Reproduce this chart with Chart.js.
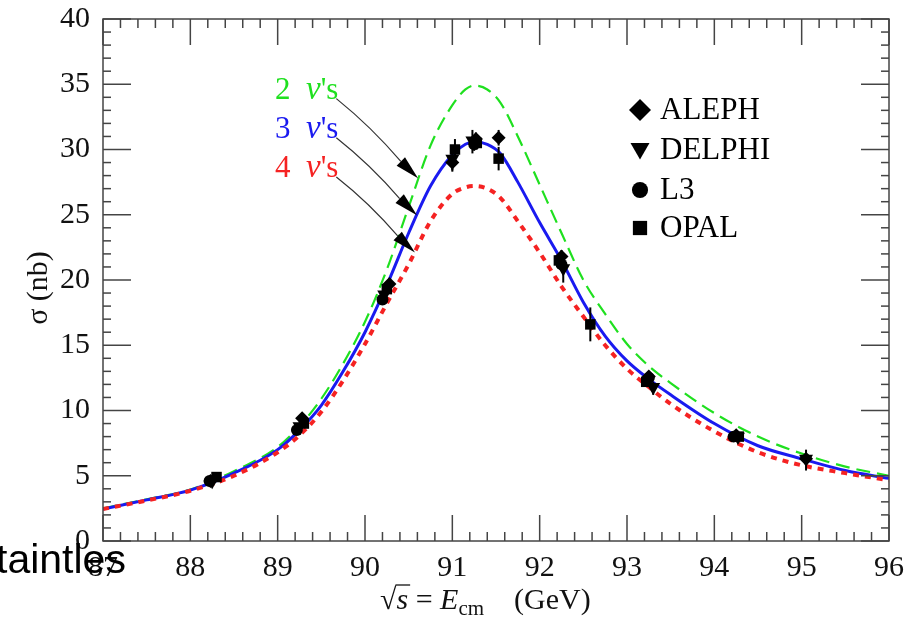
<!DOCTYPE html>
<html>
<head>
<meta charset="utf-8">
<script src="https://cdn.jsdelivr.net/npm/chart.js@4/dist/chart.umd.min.js"></script>
<style>
  html, body { margin: 0; padding: 0; background: #fff; }
  #wrap { position: relative; width: 912px; height: 619px; }
</style>
</head>
<body>
<div id="wrap"><canvas id="chart" width="912" height="619"></canvas></div>
<script>
// courbes théoriques (sigma en nb)
const energies = [87.0, 87.5, 88.0, 88.5, 89.0, 89.25, 89.5, 89.75, 90.0, 90.25, 90.5, 90.75, 91.0, 91.15, 91.25, 91.4, 91.55, 91.75, 92.0, 92.25, 92.5, 92.75, 93.0, 93.25, 93.5, 94.0, 94.5, 95.0, 95.5, 96.0];
const sigma2nu = [2.5, 3.2, 3.95, 5.35, 7.2, 8.8, 10.9, 13.6, 16.8, 20.8, 25.6, 30.3, 33.4, 34.6, 34.9, 34.6, 33.6, 31.0, 27.3, 23.6, 20.0, 17.4, 15.1, 13.4, 12.1, 9.8, 8.0, 6.7, 5.7, 5.0];
const sigma3nu = [2.45, 3.15, 3.9, 5.2, 7.0, 8.5, 10.4, 13.0, 16.0, 19.6, 23.6, 27.2, 29.6, 30.4, 30.6, 30.4, 29.7, 27.5, 24.4, 21.5, 18.3, 15.7, 13.8, 12.4, 11.2, 9.0, 7.3, 6.3, 5.4, 4.8];
const sigma4nu = [2.45, 3.1, 3.85, 5.0, 6.8, 8.1, 9.9, 12.3, 15.1, 18.2, 21.2, 24.5, 26.6, 27.1, 27.2, 27.0, 26.3, 24.5, 22.1, 19.5, 17.2, 15.0, 13.2, 11.8, 10.5, 8.4, 6.8, 5.8, 5.2, 4.65];

// mesures des 4 expériences
const alephE = [88.23, 89.28, 90.28, 91.0, 91.27, 91.53, 92.25, 93.25, 94.25, 95.05];
const alephSigma = [4.6, 9.4, 19.7, 29.0, 30.8, 30.9, 21.8, 12.6, 8.1, 6.3];
const alephErr = [0.3, 0.3, 0.4, 0.6, 0.5, 0.6, 0.5, 0.4, 0.3, 0.4];
const delphiE = [88.25, 89.25, 90.22, 91.0, 91.23, 92.27, 93.3, 94.27, 95.05];
const delphiSigma = [4.5, 8.7, 18.8, 29.2, 30.6, 20.8, 11.7, 7.9, 6.2];
const delphiErr = [0.3, 0.3, 0.4, 0.9, 0.9, 1.0, 0.5, 0.4, 0.8];
const l3E = [88.22, 89.22, 90.2, 91.25, 92.25, 93.25, 94.22];
const l3Sigma = [4.6, 8.5, 18.5, 30.4, 21.2, 12.5, 8.0];
const l3Err = [0.2, 0.3, 0.4, 0.5, 0.5, 0.4, 0.3];
const opalE = [88.3, 89.3, 90.25, 91.03, 91.28, 91.53, 92.22, 92.58, 93.22, 94.28];
const opalSigma = [4.9, 9.0, 19.3, 30.0, 30.5, 29.3, 21.5, 16.6, 12.2, 8.0];
const opalErr = [0.3, 0.3, 0.4, 0.8, 0.5, 0.9, 0.5, 1.3, 0.4, 0.3];

const xTicks = [87, 88, 89, 90, 91, 92, 93, 94, 95, 96];
const yTicks = [0, 5, 10, 15, 20, 25, 30, 35, 40];
const nuCounts = ['2', '3', '4'];

const SERIF = '"Liberation Serif", "Times New Roman", serif';
const GREEN = '#1fe01f', BLUE = '#1a1af0', RED = '#f52222';

const experiments = [
  { name: 'ALEPH', E: alephE, s: alephSigma, err: alephErr, style: 'diamond' },
  { name: 'DELPHI', E: delphiE, s: delphiSigma, err: delphiErr, style: 'tri' },
  { name: 'L3', E: l3E, s: l3Sigma, err: l3Err, style: 'circle' },
  { name: 'OPAL', E: opalE, s: opalSigma, err: opalErr, style: 'square' }
];

// étiquettes "n ν's" et flèches (coordonnées en GeV / nb)
const nuLabelAt = { e: 88.97, s: [33.9, 30.9, 27.9] };
const arrowTips = [[90.607, 27.8], [90.595, 24.96], [90.572, 22.1]];
const nuColors = [GREEN, BLUE, RED];

function pts(E, S) { return E.map((e, i) => ({ x: e, y: S[i] })); }

function line(ctx, x1, y1, x2, y2) {
  ctx.beginPath(); ctx.moveTo(x1, y1); ctx.lineTo(x2, y2); ctx.stroke();
}

// petit dessin de marqueur (pour les points et la légende)
function marker(ctx, style, x, y, r) {
  ctx.beginPath();
  if (style === 'diamond') {
    ctx.moveTo(x, y - r); ctx.lineTo(x + r, y); ctx.lineTo(x, y + r); ctx.lineTo(x - r, y);
  } else if (style === 'tri') {
    ctx.moveTo(x - r, y - r * 0.75); ctx.lineTo(x + r, y - r * 0.75); ctx.lineTo(x, y + r);
  } else if (style === 'circle') {
    ctx.arc(x, y, r * 0.85, 0, Math.PI * 2);
  } else {
    ctx.rect(x - r * 0.75, y - r * 0.75, r * 1.5, r * 1.5);
  }
  ctx.closePath();
  ctx.fill();
}

function pieces(ctx, list, x, y) {
  list.forEach(p => {
    ctx.font = p.f;
    ctx.fillText(p.t, x, y + (p.dy || 0));
    x += ctx.measureText(p.t).width;
  });
  return x;
}

const decor = {
  id: 'decor',
  afterDatasetsDraw(chart) {
    const { ctx, chartArea: a, scales: { x, y } } = chart;
    ctx.save();
    // barres d'erreur + marqueurs
    experiments.forEach(exp => {
      exp.E.forEach((e, i) => {
        const px = x.getPixelForValue(e);
        ctx.strokeStyle = '#000'; ctx.lineWidth = 2;
        line(ctx, px, y.getPixelForValue(exp.s[i] - exp.err[i]), px, y.getPixelForValue(exp.s[i] + exp.err[i]));
        ctx.fillStyle = '#000';
        marker(ctx, exp.style, px, y.getPixelForValue(exp.s[i]), 7);
      });
    });

    // cadre et graduations
    ctx.strokeStyle = '#444'; ctx.lineWidth = 1.5;
    ctx.strokeRect(a.left, a.top, a.width, a.height);
    for (let i = 0; i <= 45; i++) {
      const px = x.getPixelForValue(87 + i * 0.2);
      const len = i % 5 === 0 ? 26 : 9;
      line(ctx, px, a.bottom, px, a.bottom - len);
      line(ctx, px, a.top, px, a.top + len);
    }
    for (let v = 0; v <= 40; v++) {
      const py = y.getPixelForValue(v);
      const len = v % 5 === 0 ? 28 : 8;
      line(ctx, a.left, py, a.left + len, py);
      line(ctx, a.right, py, a.right - len, py);
    }
    ctx.restore();
  },
  afterDraw(chart) {
    const { ctx, scales: { x, y } } = chart;
    ctx.save();
    ctx.textBaseline = 'alphabetic';

    // légende
    experiments.forEach((exp, i) => {
      const cy = [110, 150, 190, 228][i];
      ctx.fillStyle = '#000';
      marker(ctx, exp.style, 640, cy, exp.style === 'diamond' ? 11 : 9.5);
      ctx.font = '31px ' + SERIF;
      ctx.textBaseline = 'middle';
      ctx.fillText(exp.name, 660, cy + 1);
      ctx.textBaseline = 'alphabetic';
    });

    // étiquettes n ν's + flèches
    nuCounts.forEach((n, i) => {
      const lx = x.getPixelForValue(nuLabelAt.e);
      const ly = y.getPixelForValue(nuLabelAt.s[i]);
      ctx.fillStyle = nuColors[i];
      const end = pieces(ctx, [
        { t: n + '  ', f: '31px ' + SERIF },
        { t: 'ν', f: 'italic 33px ' + SERIF },
        { t: "'s", f: '31px ' + SERIF }
      ], lx, ly);
      const tx = x.getPixelForValue(arrowTips[i][0]);
      const ty = y.getPixelForValue(arrowTips[i][1]);
      const sx = end - 2, sy = ly;
      const ang = Math.atan2(ty - sy, tx - sx);
      const hl = 24, hw = 6;
      const bx = tx - hl * Math.cos(ang), by = ty - hl * Math.sin(ang);
      ctx.strokeStyle = '#333'; ctx.lineWidth = 1.2;
      ctx.beginPath();
      ctx.moveTo(sx, sy);
      ctx.quadraticCurveTo((sx + bx) / 2 + 3, (sy + by) / 2 - 3, bx, by);
      ctx.stroke();
      ctx.fillStyle = '#000';
      ctx.beginPath();
      ctx.moveTo(tx, ty);
      ctx.lineTo(bx + hw * Math.sin(ang), by - hw * Math.cos(ang));
      ctx.lineTo(bx - hw * Math.sin(ang), by + hw * Math.cos(ang));
      ctx.closePath();
      ctx.fill();
    });

    // titre axe y
    ctx.fillStyle = '#111';
    ctx.save();
    ctx.translate(47, 288);
    ctx.rotate(-Math.PI / 2);
    ctx.font = '30px ' + SERIF;
    ctx.textAlign = 'center';
    ctx.fillText('σ (nb)', 0, 0);
    ctx.restore();

    // titre axe x : √s = E_cm  (GeV)
    const base = 609;
    let cx = 380;
    ctx.font = '30px ' + SERIF;
    ctx.fillText('√', cx, base);
    cx += ctx.measureText('√').width;
    ctx.font = 'italic 30px ' + SERIF;
    const sw = ctx.measureText('s').width;
    ctx.fillText('s', cx, base);
    ctx.strokeStyle = '#111'; ctx.lineWidth = 1.3;
    line(ctx, cx - 1, base - 24, cx + sw + 2, base - 24);
    cx += sw;
    pieces(ctx, [
      { t: ' = ', f: '30px ' + SERIF },
      { t: 'E', f: 'italic 30px ' + SERIF },
      { t: 'cm', f: '21px ' + SERIF, dy: 6 },
      { t: '    (GeV)', f: '30px ' + SERIF }
    ], cx, base);

    // texte parasite en bas à gauche
    ctx.fillStyle = '#000';
    ctx.font = '41px "Liberation Sans", Arial, sans-serif';
    ctx.fillText('taintles', -4, 573);
    ctx.restore();
  }
};

const curve = (label, S, color, width, dash, order) => ({
  type: 'line', label, data: pts(energies, S), borderColor: color, borderWidth: width,
  borderDash: dash, pointRadius: 0, fill: false, cubicInterpolationMode: 'monotone', order
});

new Chart(document.getElementById('chart'), {
  type: 'scatter',
  data: {
    datasets: [
      curve("2 ν's", sigma2nu, GREEN, 2.2, [14, 7], 12),
      curve("3 ν's", sigma3nu, BLUE, 3, [], 11),
      curve("4 ν's", sigma4nu, RED, 4, [6, 6], 10)
    ]
  },
  options: {
    responsive: false,
    animation: false,
    layout: { padding: { top: 19, right: 23, left: 0, bottom: 0 } },
    plugins: { legend: { display: false }, tooltip: { enabled: false } },
    scales: {
      x: {
        type: 'linear', min: 87, max: 96,
        afterFit: s => { s.height = 78; s.paddingLeft = 0; s.paddingRight = 0; },
        afterBuildTicks: s => { s.ticks = xTicks.map(v => ({ value: v })); },
        grid: { display: false, drawTicks: false },
        border: { display: false },
        ticks: { padding: 9, color: '#111', font: { family: SERIF, size: 30 } }
      },
      y: {
        type: 'linear', min: 0, max: 40,
        afterFit: s => { s.width = 103; s.paddingTop = 0; s.paddingBottom = 0; },
        afterBuildTicks: s => { s.ticks = yTicks.map(v => ({ value: v })); },
        grid: { display: false, drawTicks: false },
        border: { display: false },
        ticks: { padding: 13, color: '#111', font: { family: SERIF, size: 30 } }
      }
    }
  },
  plugins: [decor]
});
</script>
</body>
</html>
